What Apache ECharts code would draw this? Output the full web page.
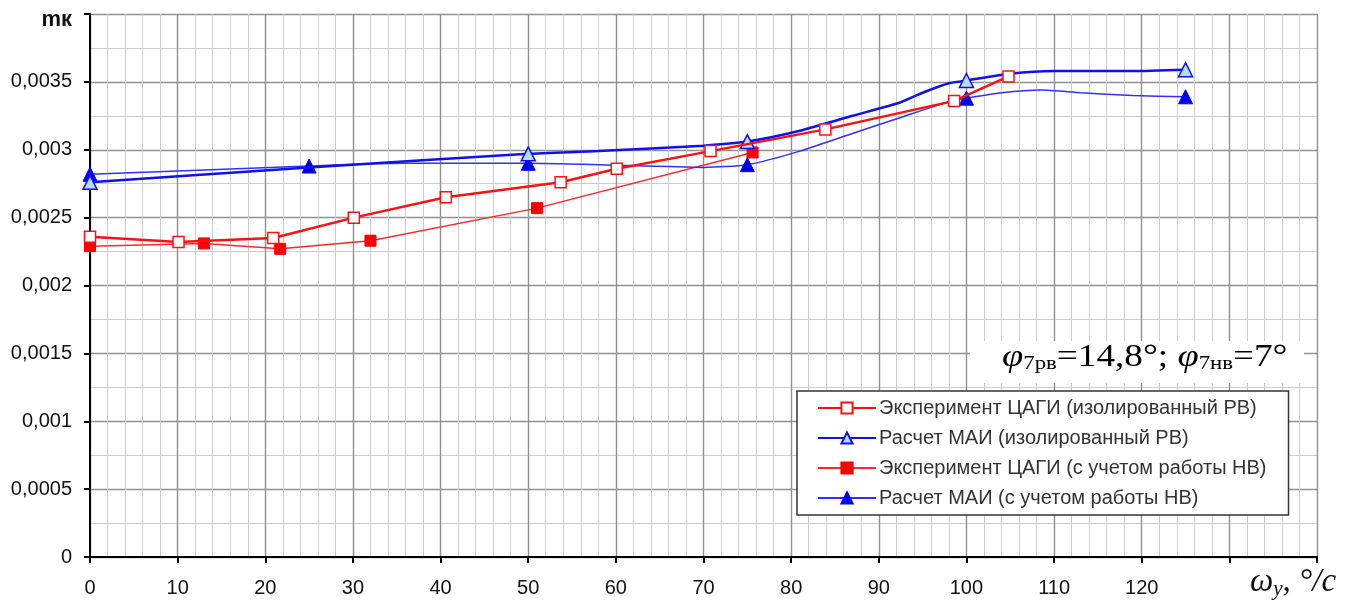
<!DOCTYPE html>
<html>
<head>
<meta charset="utf-8">
<script src="https://cdn.jsdelivr.net/npm/echarts@6/dist/echarts.min.js"></script>
<style>
html,body{margin:0;padding:0;background:#fff;}
#chart{width:1357px;height:610px;}
</style>
</head>
<body>
<div id="chart"></div>
<script>
// ---- data ----
const seriesNames = [
  'Эксперимент ЦАГИ (изолированный РВ)',
  'Расчет МАИ (изолированный РВ)',
  'Эксперимент ЦАГИ (с учетом работы НВ)',
  'Расчет МАИ (с учетом работы НВ)'
];
// Эксперимент ЦАГИ (изолированный РВ) – all points are markers
const tsagiIsoX = [0, 10.1, 20.9, 30.1, 40.6, 53.7, 60.1, 70.8, 83.9, 98.6, 104.8];
const tsagiIsoY = [0.00236, 0.00232, 0.00235, 0.00250, 0.00265, 0.00276, 0.00286, 0.00299, 0.00315, 0.00336, 0.00354];
// Расчет МАИ (изолированный РВ) – curve, markers at maiIsoMarkX
const maiIsoX = [0, 25, 50, 58, 70, 75, 81, 87, 92.5, 95, 98, 100, 105, 110, 119, 125];
const maiIsoY = [0.00276, 0.00287, 0.00297, 0.00299, 0.00303, 0.00306, 0.00314, 0.00325, 0.00335, 0.00342, 0.00349, 0.00351, 0.00356, 0.00358, 0.00358, 0.00359];
const maiIsoMarkX = [0, 50, 75, 100, 125];
// Эксперимент ЦАГИ (с учетом работы НВ)
const tsagiNvX = [0, 13, 21.7, 32, 51, 75.6];
const tsagiNvY = [0.00229, 0.00231, 0.00227, 0.00233, 0.00257, 0.00298];
// Расчет МАИ (с учетом работы НВ)
const maiNvX = [0, 25, 35.6, 50, 58, 70, 75, 81, 87, 92.6, 98.3, 100, 104, 108.6, 113, 119, 125];
const maiNvY = [0.00282, 0.00288, 0.00290, 0.00290, 0.00289, 0.00287, 0.00289, 0.00299, 0.00312, 0.00324, 0.00336, 0.00338, 0.00342, 0.00344, 0.00342, 0.00340, 0.00339];
const maiNvMarkX = [0, 25, 50, 75, 100, 125];

function build(xs, ys, marks) {
  return xs.map((x, i) => {
    if (!marks || marks.indexOf(x) >= 0) return [x, ys[i]];
    return { value: [x, ys[i]], symbol: 'none' };
  });
}

const chart = echarts.init(document.getElementById('chart'), null, {renderer: 'canvas'});
const FONT = '"Liberation Sans", Arial, sans-serif';
const SERIF = '"Liberation Serif", "Times New Roman", serif';
const option = {
  backgroundColor: '#fff',
  animation: false,
  grid: { left: 90, right: 40, top: 14, bottom: 53, containLabel: false },
  xAxis: {
    type: 'value', min: 0, max: 140, interval: 10,
    axisLine: { onZero: false, lineStyle: { color: '#000', width: 2 } },
    axisTick: { show: true, length: 6, lineStyle: { color: '#000', width: 2 } },
    axisLabel: { margin: 21, fontSize: 20, color: '#111', fontFamily: FONT,
      formatter: v => v > 120 ? '' : String(v) },
    splitLine: { show: true, lineStyle: { color: '#909090', width: 1.4 } },
    minorTick: { show: false, splitNumber: 5 },
    minorSplitLine: { show: true, lineStyle: { color: '#cccccc', width: 1 } }
  },
  yAxis: {
    type: 'value', min: 0, max: 0.004, interval: 0.0005,
    axisLine: { show: true, onZero: false, lineStyle: { color: '#000', width: 2 } },
    axisTick: { show: true, length: 6, lineStyle: { color: '#000', width: 2 } },
    axisLabel: { margin: 18, fontSize: 20, color: '#111', fontFamily: FONT,
      formatter: v => {
        if (v >= 0.0039999) return '{m|mк}';
        return String(Number(v.toFixed(4))).replace('.', ',');
      },
      rich: { m: { fontSize: 22, fontWeight: 'bold', color: '#111', fontFamily: FONT, padding: [12, 0, 0, 0] } }
    },
    splitLine: { show: true, lineStyle: { color: '#909090', width: 1.4 } },
    minorTick: { show: false, splitNumber: 2 },
    minorSplitLine: { show: true, lineStyle: { color: '#cccccc', width: 1 } }
  },
  legend: {
    orient: 'vertical', left: 797, top: 391,
    backgroundColor: '#fff', borderColor: '#333', borderWidth: 1.5,
    padding: [7, 22, 7, 20], itemWidth: 58, itemHeight: 14, itemGap: 10,
    textStyle: { fontSize: 20, color: '#333', fontFamily: FONT, lineHeight: 20, padding: [0, 0, 0, -2] },
    data: seriesNames
  },
  series: [
    {
      name: seriesNames[0], type: 'line', z: 5,
      data: build(tsagiIsoX, tsagiIsoY),
      symbol: 'rect', symbolSize: 11,
      lineStyle: { color: '#ff1010', width: 2.5 },
      itemStyle: { color: '#fff', borderColor: '#ff1010', borderWidth: 1.5 }
    },
    {
      name: seriesNames[1], type: 'line', z: 4, smooth: 0.2,
      data: build(maiIsoX, maiIsoY, maiIsoMarkX),
      symbol: 'triangle', symbolSize: 14, showAllSymbol: true,
      lineStyle: { color: '#1010ee', width: 2.5 },
      itemStyle: { color: '#b4dcf8', borderColor: '#1010ee', borderWidth: 1.5 }
    },
    {
      name: seriesNames[2], type: 'line', z: 3,
      data: build(tsagiNvX, tsagiNvY),
      symbol: 'rect', symbolSize: 11,
      lineStyle: { color: '#ff2828', width: 1.5 },
      itemStyle: { color: '#ff0000', borderColor: '#ff0000', borderWidth: 1 }
    },
    {
      name: seriesNames[3], type: 'line', z: 3, smooth: 0.2,
      data: build(maiNvX, maiNvY, maiNvMarkX),
      symbol: 'triangle', symbolSize: 14, showAllSymbol: true,
      lineStyle: { color: '#3030ff', width: 1.5 },
      itemStyle: { color: '#0000ee', borderColor: '#0000ee', borderWidth: 1 }
    }
  ],
  graphic: [
    {
      type: 'rect', left: 970, top: 341, z: 100,
      shape: { width: 334, height: 42 },
      style: { fill: '#fff', stroke: null }
    },
    {
      type: 'text', x: 1002, y: 342, scaleX: 1.2, z: 101,
      style: {
        text: '{p|φ}{s|7рв}{n|=14,8°; }{p|φ}{s|7нв}{n|=7°}',
        rich: {
          p: { fontFamily: SERIF, fontStyle: 'italic', fontSize: 32, fill: '#000' },
          n: { fontFamily: SERIF, fontSize: 31, fill: '#000' },
          s: { fontFamily: SERIF, fontSize: 19, fill: '#000', padding: [13, 0, 0, 0] }
        }
      }
    },
    {
      type: 'text', x: 1250, y: 564, z: 101,
      style: {
        text: '{w|ω}{s|y}{w|, °/c}',
        rich: {
          w: { fontFamily: SERIF, fontStyle: 'italic', fontSize: 33, fill: '#111' },
          s: { fontFamily: SERIF, fontStyle: 'italic', fontSize: 21, fill: '#111', padding: [15, 0, 0, 0] }
        }
      }
    }
  ]
};
chart.setOption(option);
</script>
</body>
</html>
